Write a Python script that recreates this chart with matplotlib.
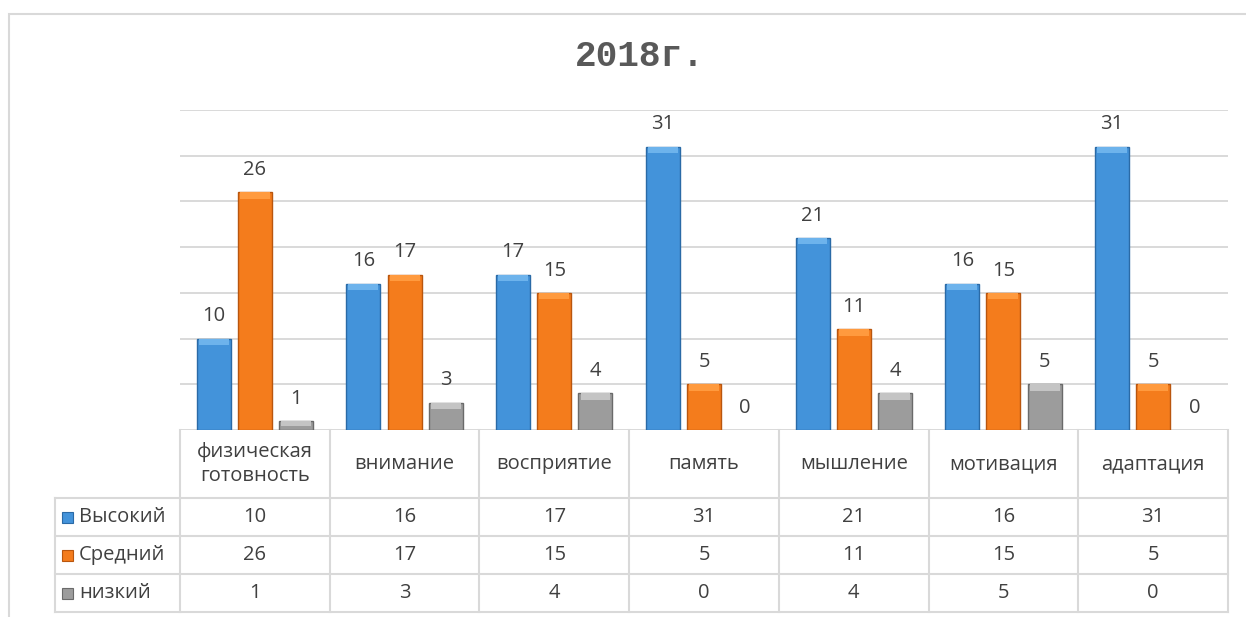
import matplotlib
matplotlib.use("Agg")
import matplotlib.pyplot as plt
from matplotlib.patches import Rectangle
from matplotlib.transforms import blended_transform_factory
import numpy as np

categories = ["физическая\nготовность", "внимание", "восприятие", "память",
              "мышление", "мотивация", "адаптация"]
series_names = ["Высокий", "Средний", "низкий"]
high = [10, 16, 17, 31, 21, 16, 31]
mid = [26, 17, 15, 5, 11, 15, 5]
low = [1, 3, 4, 0, 4, 5, 0]
title = "2018г."

colors = ["#4393DA", "#F47C1C", "#9C9C9C"]
edges = ["#2A6AA6", "#B9560E", "#6A6A6A"]
tops = ["#6DB3EC", "#FF9A3E", "#C4C4C4"]
grid_c = "#D9D9D9"
text_c = "#404040"
fs = 14.5

plt.rcParams["font.family"] = ["Open Sans", "DejaVu Sans"]

W, H = 1246, 617
fig = plt.figure(figsize=(W / 100, H / 100), dpi=100)
# plot area in pixels: x 180..1228, y 110..430
ax = fig.add_axes([180 / W, (H - 430) / H, (1228 - 180) / W, 320 / H])
ax.set_xlim(-0.5, len(categories) - 0.5)
ax.set_ylim(0, 35)
for s in ax.spines.values():
    s.set_visible(False)
ax.set_xticks([])
ax.set_yticks(np.arange(0, 36, 5))
ax.tick_params(left=False, labelleft=False)
ax.yaxis.grid(True, color=grid_c, linewidth=1.4)
ax.set_axisbelow(True)

# outer chart frame
fig.patches.append(Rectangle((9 / W, -0.1), 1.2, (H - 14) / H + 0.1,
                             transform=fig.transFigure, fill=False,
                             edgecolor=grid_c, linewidth=1.5))

fig.text(640 / W, (H - 56) / H, title, ha="center", va="center",
         fontsize=26, fontweight="bold", family="Liberation Mono", color="#595959")

x = np.arange(len(categories))
offsets = [-0.275, 0.0, 0.275]
bw = 0.227
bevel = 0.7
for vals, off, c, e, t in zip([high, mid, low], offsets, colors, edges, tops):
    lws = [1.0 if v > 0 else 0 for v in vals]
    ax.bar(x + off, vals, width=bw, color=c, edgecolor=e, linewidth=lws, zorder=3)
    for xi, v in zip(x, vals):
        if v > 0:
            h = min(bevel, v * 0.6)
            ax.bar(xi + off, h, bottom=v - h, width=bw * 0.88, color=t,
                   linewidth=0, zorder=4)
        ax.annotate(str(v), (xi + off, v), xytext=(0, 16), textcoords="offset points",
                    ha="center", va="center", fontsize=fs, color=text_c)

# data table below the plot
tr = blended_transform_factory(ax.transData, ax.transAxes)
left = -0.5 - 125 / 149.7
rows_y = [0, -68 / 320, -106 / 320, -144 / 320, -182 / 320]
lw = 1.5
for yv in rows_y[1:]:
    ax.plot([left, len(categories) - 0.5], [yv, yv], color=grid_c, lw=lw,
            transform=tr, clip_on=False)
for xe in np.arange(len(categories) + 1) - 0.5:
    ax.plot([xe, xe], [0, rows_y[-1]], color=grid_c, lw=lw, transform=tr, clip_on=False)
ax.plot([left, left], [rows_y[1], rows_y[-1]], color=grid_c, lw=lw,
        transform=tr, clip_on=False)

for xi, cat in zip(x, categories):
    ax.text(xi, (rows_y[0] + rows_y[1]) / 2, cat, transform=tr, ha="center",
            va="center", fontsize=fs, color=text_c, linespacing=1.25)

for r, (name, vals, c, e) in enumerate(zip(series_names, [high, mid, low], colors, edges)):
    yc = (rows_y[r + 1] + rows_y[r + 2]) / 2
    sq = 11 / 149.7
    ax.add_patch(Rectangle((left + 7 / 149.7, yc - 5.5 / 320), sq, 11 / 320,
                           transform=tr, facecolor=c, edgecolor=e, lw=0.8,
                           clip_on=False))
    ax.text(left + 24 / 149.7, yc, name, transform=tr, ha="left", va="center",
            fontsize=fs, color=text_c)
    for xi, v in zip(x, vals):
        ax.text(xi, yc, str(v), transform=tr, ha="center", va="center",
                fontsize=fs, color=text_c)

fig.savefig("out.png", dpi=100, facecolor="white")
